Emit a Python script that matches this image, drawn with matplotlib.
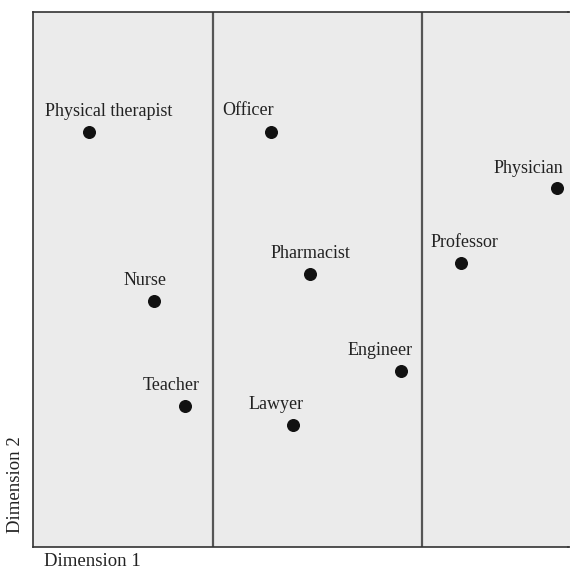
import numpy as np
import matplotlib
matplotlib.use('Agg')
import matplotlib.pyplot as plt

# Coordinates (arbitrary 0-10 scale on both dimensions)
JOBS = ['Physical therapist', 'Officer', 'Physician', 'Professor', 'Pharmacist',
        'Nurse', 'Engineer', 'Teacher', 'Lawyer']
DIM1 = [1.05, 4.45, 9.79, 8.00, 5.18, 2.26, 6.88, 2.84, 4.86]
DIM2 = [7.76, 7.76, 6.71, 5.31, 5.10, 4.60, 3.29, 2.64, 2.28]
SPLITS = [3.37, 7.27]   # cluster boundaries along dimension 1

# label offsets in pixels (dx, dy) relative to each point
LABEL_OFFSETS = [(20, 12), (-23, 13), (-28, 11), (3, 12), (0, 12),
                 (-9, 12), (-21, 12), (-14, 12), (-17, 12)]

plt.rcParams['font.family'] = ['Liberation Serif', 'DejaVu Serif']

fig = plt.figure(figsize=(5.70, 5.69), dpi=100)
# panel runs off the right edge of the image, as in the original
ax = fig.add_axes([33 / 570, 22 / 569, 535 / 570, 535 / 569])
ax.set_facecolor('#ebebeb')
ax.set_xlim(0, 10)
ax.set_ylim(0, 10)
ax.set_xticks([])
ax.set_yticks([])
for side, sp in ax.spines.items():
    sp.set_color('#333333')
    sp.set_linewidth(1.2)
ax.spines['right'].set_visible(False)

# extend background to the image edge
ax.axvspan(10, 10.1, color='#ebebeb', clip_on=False, lw=0)
ax.plot([10, 10.1], [10, 10], color='#333333', lw=1.2, clip_on=False)
ax.plot([10, 10.1], [0, 0], color='#333333', lw=1.2, clip_on=False)

for xs in SPLITS:
    ax.axvline(xs, color='#555555', lw=1.6)

ax.scatter(DIM1, DIM2, s=70, color='#111111', zorder=3)
for name, x, y, (dx, dy) in zip(JOBS, DIM1, DIM2, LABEL_OFFSETS):
    ax.annotate(name, (x, y), xytext=(dx, dy), textcoords='offset pixels',
                ha='center', va='bottom', fontsize=13, color='#222222')

fig.text(44 / 570, 1 - 562 / 569, 'Dimension 1', ha='left', va='center',
         fontsize=13.5, color='#222222')
fig.text(16 / 570, 1 - 485 / 569, 'Dimension 2', ha='center', va='center',
         rotation=90, fontsize=13.5, color='#222222')

fig.savefig('out.png', dpi=100)
